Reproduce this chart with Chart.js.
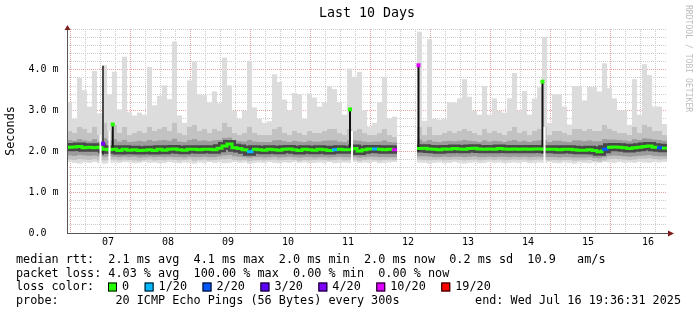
<!DOCTYPE html>
<html>
<head>
<meta charset="utf-8">
<script src="https://cdn.jsdelivr.net/npm/chart.js@4.4.1/dist/chart.umd.min.js"></script>
<style>html,body{margin:0;padding:0;background:#fff}canvas{display:block}</style>
</head>
<body>
<canvas id="c" width="697" height="315"></canvas>
<script>
// ---------- data (2 hour bins, 10 days ending Wed Jul 16 19:36:31 2025) ----------
const binHours = 2;
const spanHours = 240;
const firstMidnight = 4.39;            // Jul 07 00:00, hours after start
const dayLabels = ["07","08","09","10","11","12","13","14","15","16"];
const yTickLabels = ["0.0  ","1.0 m","2.0 m","3.0 m","4.0 m"];

// median rtt (ms)
const median = [
  2.10,2.11,2.12,2.09,2.10,2.09,2.10,2.05,2.04,2.05,
  2.02,2.05,2.03,2.04,2.02,2.03,2.04,2.02,2.05,2.03,
  2.05,2.06,2.04,2.03,2.05,2.05,2.04,2.05,2.05,2.04,
  2.08,2.13,2.18,2.09,2.07,2.04,1.99,2.05,2.04,2.03,
  2.05,2.04,2.03,2.05,2.06,2.04,2.02,2.05,2.04,2.03,
  2.05,2.04,2.02,2.04,2.05,2.04,2.04,2.07,2.01,2.04,
  2.06,2.06,2.05,2.04,2.05,2.04,null,null,null,null,
  2.07,2.08,2.06,2.05,2.04,2.06,2.05,2.07,2.06,2.05,
  2.07,2.08,2.06,2.05,2.06,2.05,2.07,2.06,2.05,2.06,
  2.05,2.06,2.05,2.06,2.06,2.05,2.05,2.05,2.04,2.05,
  2.05,2.04,2.03,2.03,2.04,2.02,1.99,2.05,2.10,2.11,
  2.10,2.09,2.07,2.09,2.10,2.12,2.13,2.10,2.09,2.08
];
// smoke: slowest ping (ms)
const smokeMax = [
  3.20,2.80,3.80,3.50,3.10,3.97,2.93,4.11,3.40,3.95,
  3.03,4.32,2.96,2.88,2.95,2.90,4.07,3.13,3.36,3.62,
  3.28,4.69,2.88,2.70,3.74,4.20,3.40,3.38,3.20,3.47,
  3.18,4.30,3.62,3.00,2.80,3.00,4.22,3.08,2.80,2.70,
  2.74,3.89,3.70,3.27,3.00,3.43,3.40,2.80,3.42,3.32,
  3.10,3.20,3.60,3.53,3.20,2.90,4.03,3.83,3.95,3.00,
  2.60,2.70,3.21,3.83,2.80,2.85,null,null,null,null,
  4.93,2.75,4.75,2.80,2.78,2.80,3.20,3.20,3.30,3.77,
  3.34,3.00,2.90,3.60,2.90,3.30,3.00,2.95,3.30,3.92,
  3.00,3.48,2.90,3.30,3.57,4.81,2.70,3.40,3.40,3.10,
  2.66,3.60,3.60,3.25,3.58,3.58,3.47,4.16,3.55,3.30,
  3.00,3.00,2.65,3.77,2.90,4.14,3.87,3.10,3.10,2.67
];
// smoke: upper edge of the busy part (ms)
const smokeHi = [
  2.50,2.45,2.60,2.55,2.45,2.60,2.40,2.70,2.50,2.65,
  2.45,2.60,2.40,2.45,2.50,2.45,2.60,2.50,2.55,2.60,
  2.50,2.70,2.45,2.40,2.60,2.65,2.50,2.55,2.45,2.55,
  2.50,2.70,2.60,2.45,2.40,2.45,2.60,2.45,2.40,2.40,
  2.40,2.55,2.60,2.45,2.40,2.50,2.45,2.40,2.50,2.45,
  2.45,2.50,2.55,2.55,2.45,2.40,2.55,2.50,2.55,2.45,
  2.40,2.40,2.45,2.55,2.40,2.35,null,null,null,null,
  2.60,2.40,2.60,2.40,2.40,2.45,2.50,2.45,2.50,2.55,
  2.50,2.45,2.40,2.55,2.45,2.50,2.45,2.40,2.50,2.60,
  2.45,2.50,2.40,2.50,2.55,2.60,2.40,2.50,2.50,2.45,
  2.40,2.55,2.55,2.50,2.55,2.50,2.50,2.65,2.55,2.50,
  2.45,2.45,2.40,2.60,2.45,2.65,2.60,2.50,2.50,2.40
];
// smoke: upper edge of the dense core (ms)
const coreHi = [
  2.28,2.26,2.30,2.27,2.25,2.30,2.24,2.32,2.27,2.30,
  2.24,2.28,2.23,2.24,2.26,2.24,2.28,2.25,2.27,2.28,
  2.26,2.31,2.24,2.23,2.28,2.30,2.26,2.27,2.25,2.27,
  2.28,2.33,2.34,2.27,2.25,2.24,2.28,2.24,2.23,2.23,
  2.23,2.27,2.28,2.25,2.23,2.26,2.24,2.23,2.26,2.24,
  2.24,2.26,2.27,2.27,2.24,2.23,2.27,2.27,2.26,2.24,
  2.23,2.24,2.24,2.27,2.23,2.22,null,null,null,null,
  2.29,2.24,2.28,2.24,2.23,2.25,2.26,2.25,2.26,2.28,
  2.26,2.25,2.23,2.27,2.24,2.26,2.25,2.23,2.26,2.28,
  2.24,2.26,2.23,2.26,2.27,2.28,2.23,2.26,2.26,2.24,
  2.23,2.27,2.27,2.25,2.27,2.25,2.25,2.30,2.29,2.29,
  2.28,2.27,2.25,2.30,2.28,2.32,2.31,2.29,2.28,2.26
];
// smoke: lower edge of the dense core (ms)
const coreLo = [
  1.90,1.89,1.91,1.90,1.89,1.90,1.88,1.87,1.88,1.87,
  1.86,1.87,1.86,1.87,1.85,1.86,1.87,1.86,1.87,1.86,
  1.87,1.86,1.86,1.85,1.87,1.86,1.86,1.87,1.86,1.86,
  1.88,1.90,1.91,1.88,1.87,1.86,1.84,1.86,1.86,1.85,
  1.86,1.87,1.85,1.86,1.87,1.86,1.85,1.86,1.86,1.85,
  1.86,1.86,1.85,1.86,1.87,1.86,1.86,1.87,1.85,1.86,
  1.87,1.87,1.86,1.86,1.86,1.86,null,null,null,null,
  1.88,1.88,1.87,1.86,1.86,1.87,1.86,1.87,1.87,1.86,
  1.87,1.88,1.86,1.86,1.87,1.86,1.87,1.87,1.86,1.87,
  1.86,1.87,1.86,1.87,1.87,1.86,1.86,1.86,1.85,1.86,
  1.86,1.85,1.85,1.85,1.86,1.84,1.83,1.86,1.89,1.90,
  1.89,1.88,1.87,1.88,1.89,1.90,1.91,1.89,1.88,1.88
];
// smoke: lower edge of the busy part (ms)
const smokeLo = [
  1.80,1.79,1.81,1.80,1.79,1.81,1.78,1.78,1.79,1.80,
  1.78,1.80,1.79,1.78,1.77,1.79,1.80,1.78,1.79,1.78,
  1.80,1.79,1.78,1.79,1.80,1.77,1.79,1.80,1.78,1.79,
  1.80,1.81,1.82,1.79,1.78,1.79,1.76,1.78,1.79,1.78,
  1.79,1.80,1.78,1.79,1.80,1.79,1.77,1.79,1.78,1.79,
  1.80,1.79,1.78,1.79,1.80,1.78,1.79,1.80,1.77,1.79,
  1.80,1.79,1.78,1.79,1.80,1.79,null,null,null,null,
  1.80,1.79,1.78,1.79,1.80,1.78,1.79,1.80,1.79,1.78,
  1.79,1.80,1.78,1.79,1.80,1.79,1.80,1.78,1.79,1.80,
  1.79,1.80,1.78,1.79,1.80,1.79,1.78,1.79,1.78,1.79,
  1.79,1.77,1.78,1.78,1.79,1.76,1.75,1.78,1.81,1.82,
  1.81,1.80,1.79,1.80,1.82,1.82,1.83,1.81,1.80,1.81
];
// smoke: fastest ping (ms)
const smokeMin = [
  1.74,1.72,1.70,1.73,1.72,1.74,1.71,1.70,1.72,1.73,
  1.72,1.74,1.73,1.71,1.72,1.74,1.72,1.73,1.71,1.72,
  1.74,1.72,1.71,1.73,1.72,1.70,1.73,1.72,1.74,1.72,
  1.73,1.71,1.72,1.74,1.72,1.73,1.70,1.72,1.73,1.72,
  1.74,1.72,1.71,1.73,1.72,1.74,1.72,1.73,1.71,1.72,
  1.73,1.72,1.74,1.71,1.72,1.73,1.72,1.74,1.72,1.73,
  1.72,1.74,1.71,1.72,1.73,1.74,null,null,null,null,
  1.73,1.72,1.70,1.72,1.73,1.71,1.72,1.74,1.72,1.70,
  1.72,1.73,1.71,1.72,1.74,1.72,1.73,1.71,1.72,1.73,
  1.72,1.74,1.71,1.72,1.73,1.72,1.74,1.72,1.71,1.73,
  1.72,1.70,1.73,1.72,1.71,1.73,1.72,1.74,1.73,1.72,
  1.74,1.72,1.73,1.72,1.74,1.73,1.72,1.74,1.73,1.74
];
// bins whose median had packet loss (pings lost out of 20)
const lossBin   = [36, 53, 61, 65, 107, 118];
const lossCount = [ 1,  1,  1, 10,   2,   2];

// short single-hour spikes
const spikeHour = [14.4, 18.3, 113.2, 140.6, 190.2];
const spikeMed  = [2.19, 2.66, 3.03, 4.11, 3.71];
const spikeTop  = [4.10, 2.66, 3.03, 4.11, 3.71];
const spikeBase = [1.92, 2.00, 2.00, 2.00, 1.95];
const spikeLoss = [4, 0, 0, 10, 0];
// hours with no answer at all (short holes in the smoke)
const holeHour = [13.4, 17.0, 114.0, 191.0];

// loss colour legend
const lossSteps  = [0, 1, 2, 3, 4, 10, 19];
const lossNames  = ["0","1/20","2/20","3/20","4/20","10/20","19/20"];
const lossColors = ["#26ff00","#00b8ff","#0059ff","#5e00ff","#7e00ff","#dd00ff","#ff0000"];

const legendRows = [
  "median rtt:  2.1 ms avg  4.1 ms max  2.0 ms min  2.0 ms now  0.2 ms sd  10.9   am/s",
  "packet loss: 4.03 % avg  100.00 % max  0.00 % min  0.00 % now",
  "loss color:",
  "probe:        20 ICMP Echo Pings (56 Bytes) every 300s"
];
const endText = "end: Wed Jul 16 19:36:31 2025";
const titleText = "Last 10 Days";
const yTitle = "Seconds";
const watermark = "RRDTOOL / TOBI OETIKER";

// ---------- helpers ----------
const MONO = "'DejaVu Sans Mono', monospace";
function colorFor(loss){
  let c = lossColors[0];
  lossSteps.forEach((s,i)=>{ if(loss>=s) c = lossColors[i]; });
  return c;
}
function binLoss(i){ const k = lossBin.indexOf(i); return k<0 ? 0 : lossCount[k]; }

const centres = median.map((_,i)=>i*binHours + binHours/2);
const band = (lo,hi)=>centres.map((x,i)=>({x, y: hi[i]==null ? null : [lo[i],hi[i]]}));
const medPts = [];
median.forEach((v,i)=>{ medPts.push({x:i*binHours,y:v},{x:(i+1)*binHours,y:v}); });
const binOf = h=>Math.floor(h/binHours);

const barBase = {type:"bar", grouped:false, barThickness:5, borderWidth:0, inflateAmount:0};

// ---------- decorations ----------
const decor = {
  id:"decor",
  beforeDraw(chart){
    const c = chart.ctx;
    c.save(); c.fillStyle="#fff"; c.fillRect(0,0,chart.width,chart.height); c.restore();
  },
  afterDraw(chart){
    const c = chart.ctx, a = chart.chartArea;
    c.save();
    // axes
    c.strokeStyle="#555"; c.lineWidth=1;
    c.beginPath();
    c.moveTo(a.left+0.5, a.bottom+0.5); c.lineTo(a.left+0.5, a.top-2);
    c.moveTo(a.left, a.bottom+0.5); c.lineTo(a.right+3, a.bottom+0.5);
    c.stroke();
    c.fillStyle="#7f1d1d";
    c.beginPath(); c.moveTo(a.left-2.5, a.top+1); c.lineTo(a.left+3.5, a.top+1); c.lineTo(a.left+0.5, a.top-4); c.closePath(); c.fill();
    c.beginPath(); c.moveTo(a.right+1, a.bottom-2.5); c.lineTo(a.right+1, a.bottom+3.5); c.lineTo(a.right+7, a.bottom+0.5); c.closePath(); c.fill();

    // title
    c.fillStyle="#000"; c.textBaseline="middle";
    c.font="13.3px "+MONO; c.textAlign="center";
    c.fillText(titleText, (a.left+a.right)/2, 14);
    // y title
    c.save(); c.translate(11,(a.top+a.bottom)/2); c.rotate(-Math.PI/2);
    c.font="11.8px "+MONO; c.fillText(yTitle,0,0); c.restore();
    // watermark
    c.save(); c.translate(688,5); c.rotate(Math.PI/2);
    c.font="8.1px "+MONO; c.fillStyle="#bdbdbd"; c.textAlign="left";
    c.fillText(watermark,0,0); c.restore();

    // legend
    c.font="11.8px "+MONO; c.textAlign="left"; c.fillStyle="#000";
    const rowY = [260, 273.5, 287, 301];
    legendRows.forEach((t,i)=>c.fillText(t,16,rowY[i]));
    let x = 108;
    lossNames.forEach((n,i)=>{
      c.fillStyle=lossColors[i]; c.fillRect(x, rowY[2]-4.5, 9, 9);
      c.strokeStyle="#000"; c.lineWidth=1; c.strokeRect(x+0.5, rowY[2]-4, 8, 8);
      c.fillStyle="#000"; c.fillText(n, x+14, rowY[2]);
      x += 14 + c.measureText(n).width + 15.5;
    });
    c.textAlign="right"; c.fillText(endText, 681, rowY[3]);
    c.restore();
  }
};

const major = "#eba3a3", minor = "#cccccc";

new Chart(document.getElementById("c"), {
  type:"bar",
  data:{ datasets:[
    {...barBase, order:9, data:band(smokeMin,smokeMax), backgroundColor:"#dcdcdc"},
    {...barBase, order:8, data:band(smokeLo,smokeHi), backgroundColor:"#c2c2c2"},
    {...barBase, order:7, data:band(coreLo,coreHi), backgroundColor:"#9c9c9c"},
    {...barBase, order:6, barThickness:2,
      data:spikeHour.map((h,i)=>({x:h, y:[spikeBase[i], spikeTop[i]]})),
      backgroundColor:c=>spikeTop[c.dataIndex]>spikeMed[c.dataIndex] ? "#4a4a4a" : "#111"},
    {type:"line", order:5, data:medPts, borderColor:"rgba(40,40,40,0.72)", borderWidth:8,
      pointRadius:0, spanGaps:false, borderCapStyle:"butt", borderJoinStyle:"miter"},
    {type:"line", order:4, data:medPts, borderColor:lossColors[0], borderWidth:3,
      pointRadius:0, spanGaps:false, borderCapStyle:"butt", borderJoinStyle:"miter",
      segment:{borderColor:c=>colorFor(binLoss(Math.floor(c.p0DataIndex/2)))}},
    {...barBase, order:3.5, barThickness:2,
      data:holeHour.map(h=>({x:h, y:[smokeMin[binOf(h)]-0.02, smokeHi[binOf(h)]]})),
      backgroundColor:"#fff"},
    {type:"line", order:3, showLine:false,
      data:spikeHour.map((h,i)=>({x:h, y:spikeMed[i]})),
      pointStyle:"rect", pointRadius:2.8, pointBorderWidth:0,
      pointBackgroundColor:c=>colorFor(spikeLoss[c.dataIndex])}
  ]},
  options:{
    responsive:false, animation:false, devicePixelRatio:1, events:[],
    layout:{padding:{left:0,right:30,top:29,bottom:62}},
    plugins:{legend:{display:false}, tooltip:{enabled:false}, title:{display:false}},
    scales:{
      x:{
        type:"linear", min:0, max:spanHours, offset:false, z:1,
        afterBuildTicks:s=>{ const t=[]; for(let k=0; firstMidnight+6*k<spanHours; k++) t.push({value:firstMidnight+6*k}); s.ticks=t; },
        afterFit:s=>{ s.height=20; },
        grid:{color:c=>c.index%4===0 ? major : minor, lineWidth:1, drawTicks:false},
        border:{display:false, dash:[1,1]},
        ticks:{autoSkip:false, maxRotation:0, padding:3, color:"#000",
          font:{family:MONO, size:10},
          callback:(v,i)=>i%4===2 ? dayLabels[(i-2)/4] : ""}
      },
      y:{
        min:0, max:5, z:1,
        afterBuildTicks:s=>{ const t=[]; for(let k=0;k<=25;k++) t.push({value:k/5}); s.ticks=t; },
        afterFit:s=>{ s.width=67; },
        grid:{color:c=>(c.index%5===0 && c.index>0 && c.index<25) ? major : minor, lineWidth:1, drawTicks:false},
        border:{display:false, dash:[1,1]},
        ticks:{autoSkip:false, padding:8.5, color:"#000",
          font:{family:MONO, size:10},
          callback:(v,i)=>(i%5===0 && i<25) ? yTickLabels[i/5] : ""}
      }
    }
  },
  plugins:[decor]
});
</script>
</body>
</html>
